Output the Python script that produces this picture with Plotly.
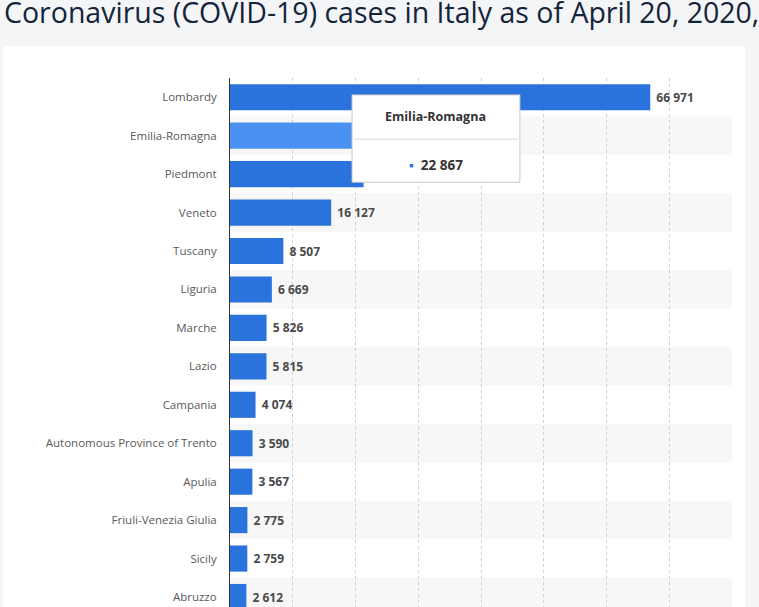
import plotly.graph_objects as go

# regions visible in the cropped screenshot, top to bottom
regions = [
    "Lombardy", "Emilia-Romagna", "Piedmont", "Veneto", "Tuscany", "Liguria",
    "Marche", "Lazio", "Campania", "Autonomous Province of Trento", "Apulia",
    "Friuli-Venezia Giulia", "Sicily", "Abruzzo",
]
cases = [66971, 22867, 21290, 16127, 8507, 6669, 5826, 5815, 4074, 3590, 3567, 2775, 2759, 2612]
hovered = "Emilia-Romagna"
title = "Coronavirus (COVID-19) cases in Italy as of April 20, 2020,"

BLUE = "#2a72dc"
BLUE_HI = "#4a91f2"
PAGE = "#f4f5f7"
W, H = 759, 607
L, R, T = 230, 27, 78


def px_x(p):
    return (p - L) / (W - L - R)


def px_y(p):
    return (H - p) / (H - T)


def fmt(v):
    return f"{v:,}".replace(",", " ")


hi = regions.index(hovered)
colors = [BLUE_HI if r == hovered else BLUE for r in regions]

fig = go.Figure(
    go.Bar(
        x=cases,
        y=regions,
        orientation="h",
        width=0.68,
        marker=dict(color=colors, line_width=0),
        text=[fmt(v) for v in cases],
        texttemplate="\u00a0%{text}",
        textposition="outside",
        textfont=dict(family="Open Sans", size=12, color="#4a4a4a", weight="bold"),
        constraintext="none",
        cliponaxis=False,
        hoverinfo="skip",
    )
)

# white card on grey page
shapes = [
    dict(type="rect", xref="paper", yref="paper", x0=px_x(3), x1=px_x(745),
         y0=-0.2, y1=px_y(46), fillcolor="white", line_width=0, layer="below")
]
# alternating row bands
for i in range(1, len(regions), 2):
    shapes.append(dict(type="rect", xref="x", yref="y", x0=0, x1=80000,
                       y0=i - 0.5, y1=i + 0.5, fillcolor="#f7f7f7",
                       line_width=0, layer="below"))

# hover tooltip over Emilia-Romagna
tx0, tx1 = 19450, 46200
shapes.append(dict(type="rect", xref="x", yref="y", x0=tx0, x1=tx1,
                   y0=hi - 1.06, y1=hi + 1.21, fillcolor="white",
                   line=dict(color="#c9c9c9", width=1), layer="above"))
shapes.append(dict(type="line", xref="x", yref="y", x0=tx0 + 300, x1=tx1 - 300,
                   y0=hi + 0.09, y1=hi + 0.09,
                   line=dict(color="#d9d9d9", width=1), layer="above"))

annotations = [
    dict(text=title, xref="paper", yref="paper", x=px_x(2), y=px_y(12),
         xanchor="left", yanchor="middle", showarrow=False,
         font=dict(family="Open Sans", size=28.5, color="#14243a")),
    dict(text="<b>" + hovered + "</b>", xref="x", yref="y",
         x=(tx0 + tx1) / 2, y=hi - 0.49, showarrow=False,
         font=dict(family="Open Sans", size=12.5, color="#333333")),
    dict(text="<span style='color:" + BLUE + "'>▪</span>  <b>" + fmt(cases[hi]) + "</b>",
         xref="x", yref="y", x=(tx0 + tx1) / 2, y=hi + 0.76, showarrow=False,
         font=dict(family="Open Sans", size=13.5, color="#333333")),
]

fig.update_layout(
    width=W,
    height=H,
    margin=dict(l=L, r=R, t=T, b=0),
    paper_bgcolor=PAGE,
    plot_bgcolor="white",
    showlegend=False,
    shapes=shapes,
    annotations=annotations,
    xaxis=dict(range=[0, 80000], dtick=10000, showgrid=True, gridcolor="#cfcfcf",
               griddash="dot", gridwidth=1, zeroline=False, showticklabels=False,
               showline=False),
    yaxis=dict(categoryorder="array", categoryarray=regions, range=[13.26, -0.5],
               showgrid=False, showline=True, linecolor="#333333", linewidth=1,
               ticks="", ticklabelstandoff=10,
               tickfont=dict(family="Open Sans", size=11.5, color="#595959")),
)

# drop the browser's default body margin so the figure sits at the window corner
fig.write_html(
    "out.html",
    config={"displayModeBar": False},
    post_script="document.body.style.margin='0';document.body.style.background='" + PAGE + "';",
)
